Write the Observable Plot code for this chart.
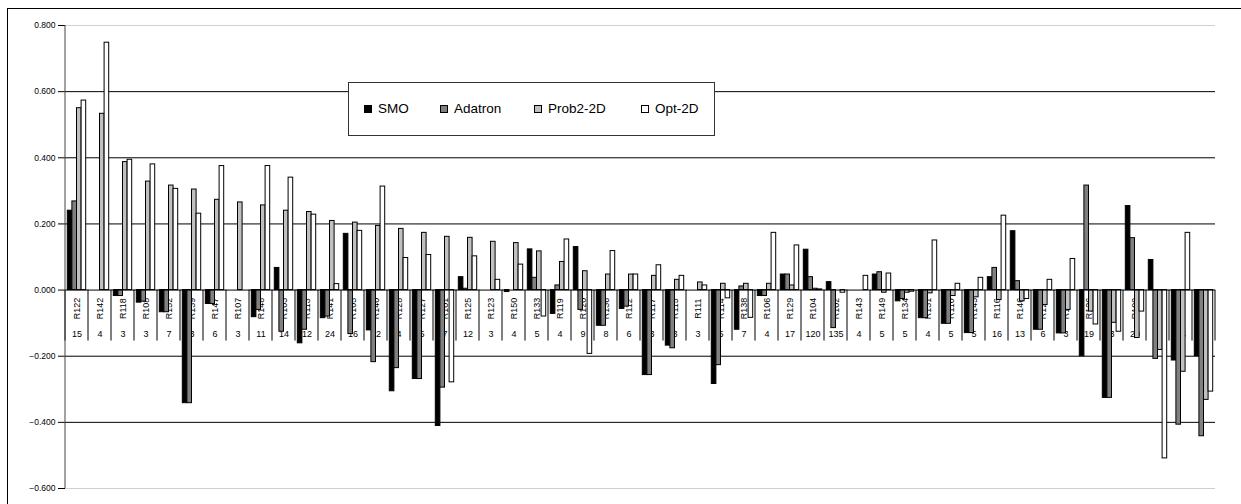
<!DOCTYPE html>
<html>
<head>
<meta charset="utf-8">
<script src="https://cdn.jsdelivr.net/npm/d3@7"></script>
<script src="https://cdn.jsdelivr.net/npm/@observablehq/plot@0.6"></script>
<style>
  body { margin: 0; background: #fff; font-family: "Liberation Sans", Arial, sans-serif; }
  #wrap { position: relative; width: 1241px; height: 504px; overflow: hidden; background: #fff; }
  #chart { position: absolute; left: 0; top: 0; }
  #outer { position: absolute; left: 7px; top: 8px; width: 1300px; height: 560px;
           border-left: 1.5px solid #000; border-top: 1.5px solid #000; pointer-events: none; }
  #legend { position: absolute; left: 348px; top: 82px; width: 367px; height: 54px;
            border: 1.2px solid #333; background: #fff; box-sizing: border-box; }
  .sw { position: absolute; top: 22px; width: 8px; height: 8px; border: 1px solid #000; box-sizing: border-box; }
  .lt { position: absolute; top: 18px; font-size: 13.5px; line-height: 16px; color: #000; white-space: nowrap; }
</style>
</head>
<body>
<div id="wrap">
  <div id="chart"></div>
  <div id="outer"></div>
  <div id="legend"></div>
</div>
<script>
// ---- data ----
const categories = ["R122","R142","R118","R108","R152","R139","R147","R107","R148","R103",
  "R113","R141","R105","R140","R128","R127","R101","R125","R123","R150",
  "R133","R119","R120","R136","R112","R117","R115","R111","R114","R138",
  "R106","R129","R104","R102","R143","R149","R134","R131","R110","R145",
  "R116","R146","R124","R130","R126","R137","R109","R135","R121","R144"];
const counts = [15,4,3,3,7,3,6,3,11,14, 12,24,16,12,4,5,7,12,3,4, 5,4,9,8,6,3,3,3,5,7,
  4,17,120,135,4,5,5,4,5,5, 16,13,6,3,19,3,20,14,14,6];
const series = ["SMO","Adatron","Prob2-2D","Opt-2D"];
const smo = [0.240,0,-0.018,-0.038,-0.067,-0.342,-0.042,0,-0.082,0.067,
  -0.161,-0.085,0.170,-0.122,-0.306,-0.269,-0.411,0.039,0,-0.006,
  0.123,-0.072,0.130,-0.108,-0.057,-0.257,-0.168,0,-0.284,-0.120,
  -0.018,0.047,0.122,0.024,0,0.047,-0.034,-0.085,-0.102,-0.130,
  0.039,0.178,-0.120,-0.131,-0.200,-0.326,0.254,0.091,-0.213,-0.200];
const adatron = [0.268,0,-0.018,-0.035,-0.067,-0.342,-0.042,0,-0.060,-0.126,
  -0.120,-0.080,-0.133,-0.218,-0.236,-0.269,-0.295,0.004,0,0,
  0.037,0.014,-0.060,-0.108,-0.050,-0.257,-0.176,0,-0.227,0.011,
  -0.018,0.047,0.039,-0.115,0,0.054,-0.027,-0.085,-0.102,-0.130,
  0.067,0.027,-0.120,-0.131,0.316,-0.326,0.157,-0.208,-0.407,-0.442];
const prob2 = [0.550,0.533,0.387,0.328,0.316,0.304,0.273,0.265,0.256,0.240,
  0.236,0.209,0.204,0.194,0.185,0.173,0.161,0.158,0.146,0.142,
  0.117,0.085,0.057,0.047,0.047,0.043,0.031,0.023,0.019,0.019,
  0.019,0.014,0.004,0,0,-0.008,-0.008,-0.010,-0.018,-0.022,
  -0.030,-0.034,-0.045,-0.060,-0.065,-0.099,-0.145,-0.181,-0.247,-0.332];
const opt = [0.573,0.748,0.394,0.380,0.306,0.231,0.375,0,0.375,0.340,
  0.228,0.018,0.179,0.313,0.097,0.106,-0.279,0.102,0.031,0.077,
  -0.080,0.153,-0.193,0.118,0.047,0.075,0.043,0.014,-0.025,-0.084,
  0.173,0.135,0.002,-0.008,0.043,0.050,-0.005,0.150,0.019,0.037,
  0.225,-0.027,0.031,0.094,-0.104,-0.126,-0.065,-0.509,0.173,-0.307];
const yTicks = [-0.6,-0.4,-0.2,0,0.2,0.4,0.6,0.8];
const gridVals = [-0.4,-0.2,0.2,0.4,0.6];
const edgeVals = [-0.6,0.8];
const fills = ["#000000","#808080","#c0c0c0","#ffffff"];

// ---- tables ----
const valuesBySeries = [smo, adatron, prob2, opt];
const rows = [];
series.forEach((s, j) => {
  categories.forEach((c, i) => {
    const v = valuesBySeries[j][i];
    if (v !== 0) rows.push({cat: c, series: s, value: v});
  });
});
const labelRows = categories.map((c, i) => ({cat: c, n: counts[i]}));

const chart = Plot.plot({
  width: 1241, height: 504,
  marginLeft: 56, marginRight: 18, marginTop: 25, marginBottom: 16,
  style: {fontFamily: "Liberation Sans, Arial, sans-serif", background: "transparent", color: "#000"},
  fx: {domain: categories, padding: 0, axis: null, label: null},
  x: {domain: series, paddingInner: 0, paddingOuter: 0.5, axis: null, round: false},
  y: {domain: [-0.6, 0.8], axis: null},
  color: {domain: series, range: fills},
  marks: [
    Plot.ruleY(edgeVals, {stroke: "#d0d0d0"}),
    Plot.ruleY(gridVals, {stroke: "#000", strokeWidth: 1}),
    Plot.text(labelRows, {fx: "cat", y: () => 0, text: "cat", rotate: -90, dy: 18.5, fontSize: 9, fill: "#000"}),
    Plot.text(labelRows, {fx: "cat", y: () => 0, text: d => String(d.n), dy: 44.5, fontSize: 9, fill: "#000"}),
    Plot.barY(rows, {fx: "cat", x: "series", y: "value", fill: "series", stroke: "#000", strokeWidth: 1}),
    Plot.ruleY([0], {stroke: "#000"}),
    Plot.axisY(yTicks, {anchor: "left", tickFormat: d3.format(".3f"), tickSize: 7, tickPadding: 3,
      fontSize: 8.5, label: null, stroke: "#000", fill: "#000"})
  ]
});

// category dividers and axis line, placed with the chart's own scales
const fxS = chart.scale("fx");
const yS = chart.scale("y");
const y0 = yS.apply(0);
const g = d3.select(chart).append("g").attr("stroke", "#000").attr("stroke-width", 1);
const xs = categories.map(c => fxS.apply(c));
xs.push(fxS.apply(categories[categories.length - 1]) + fxS.bandwidth);
xs.forEach(x => {
  g.append("line").attr("x1", x).attr("x2", x).attr("y1", y0).attr("y2", y0 + 51);
});
g.append("line").attr("x1", xs[0]).attr("x2", xs[0])
  .attr("y1", yS.apply(0.8)).attr("y2", yS.apply(-0.6)).attr("stroke", "#444");

document.getElementById("chart").appendChild(chart);

// legend
const legend = document.getElementById("legend");
const swLeft = [15, 91, 185, 292];
series.forEach((s, j) => {
  const sw = document.createElement("div");
  sw.className = "sw"; sw.style.left = swLeft[j] + "px"; sw.style.background = fills[j];
  legend.appendChild(sw);
  const t = document.createElement("div");
  t.className = "lt"; t.style.left = (swLeft[j] + 14) + "px"; t.textContent = s;
  legend.appendChild(t);
});
</script>
</body>
</html>
